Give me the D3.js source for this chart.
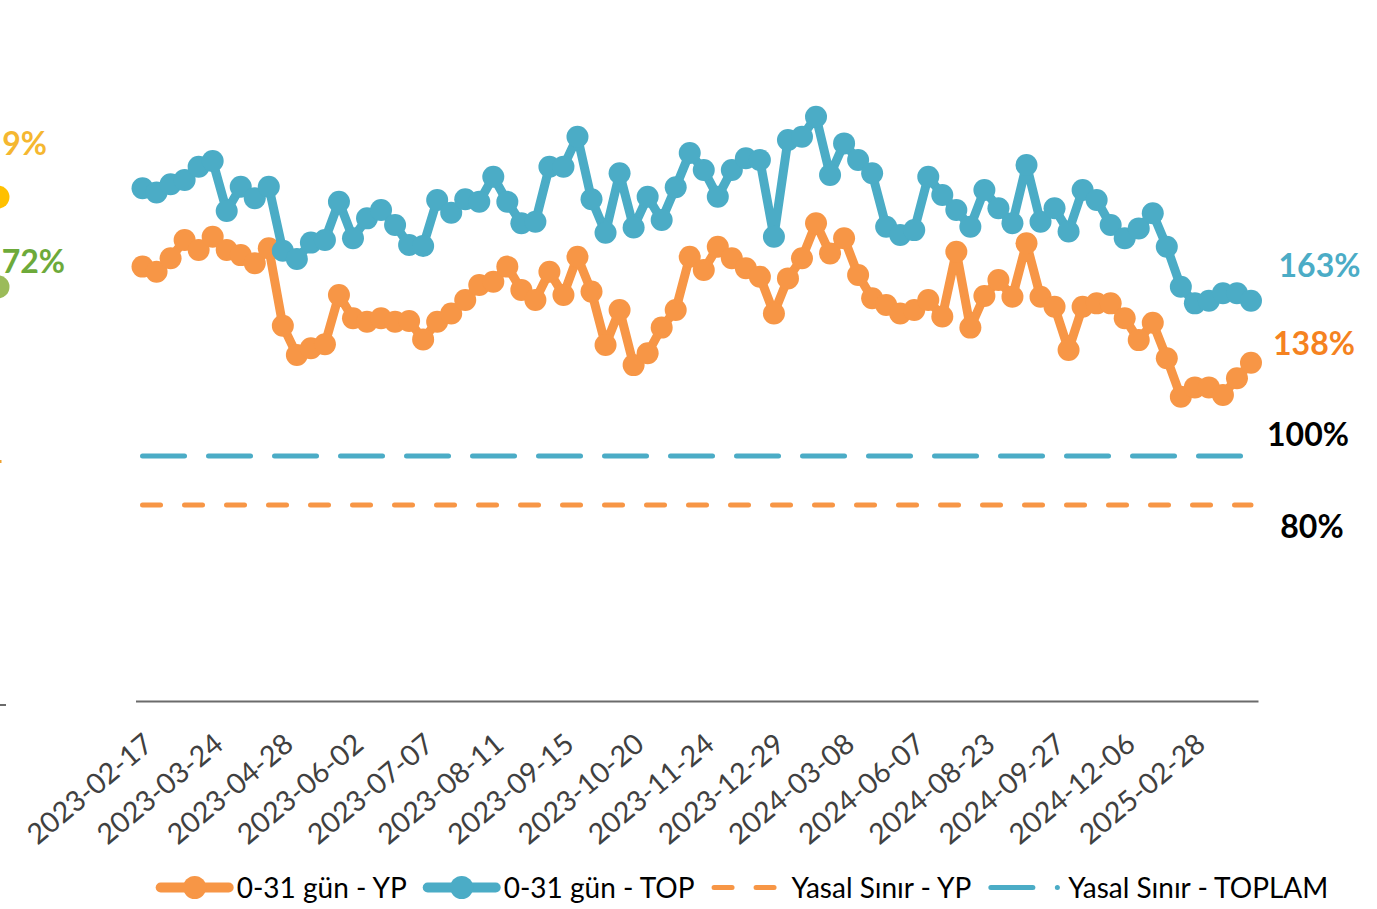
<!DOCTYPE html>
<html>
<head>
<meta charset="utf-8">
<script src="https://cdn.jsdelivr.net/npm/d3@7"></script>
<style>
html,body{margin:0;padding:0;background:#fff;overflow:hidden}
svg{display:block;font-family:Lato,"Open Sans",sans-serif}
</style>
</head>
<body>
<svg id="chart" width="1377" height="909"></svg>
<script>
// ---------------- data ----------------
const dates = [
"2023-02-17","2023-02-24","2023-03-03","2023-03-10","2023-03-17",
"2023-03-24","2023-03-31","2023-04-07","2023-04-14","2023-04-21",
"2023-04-28","2023-05-05","2023-05-12","2023-05-19","2023-05-26",
"2023-06-02","2023-06-09","2023-06-16","2023-06-23","2023-06-30",
"2023-07-07","2023-07-14","2023-07-21","2023-07-28","2023-08-04",
"2023-08-11","2023-08-18","2023-08-25","2023-09-01","2023-09-08",
"2023-09-15","2023-09-22","2023-09-29","2023-10-06","2023-10-13",
"2023-10-20","2023-10-27","2023-11-03","2023-11-10","2023-11-17",
"2023-11-24","2023-12-01","2023-12-08","2023-12-15","2023-12-22",
"2023-12-29","2024-01-12","2024-01-26","2024-02-09","2024-02-23",
"2024-03-08","2024-03-22","2024-04-05","2024-04-26","2024-05-17",
"2024-06-07","2024-06-21","2024-07-05","2024-07-26","2024-08-09",
"2024-08-23","2024-08-30","2024-09-06","2024-09-13","2024-09-20",
"2024-09-27","2024-10-11","2024-10-25","2024-11-08","2024-11-22",
"2024-12-06","2024-12-20","2025-01-03","2025-01-24","2025-02-14",
"2025-02-28","2025-03-14","2025-03-28","2025-04-11","2025-04-25"
];

// 0-31 gün - YP (%)
const seriesYP = [
177.3,175.2,180.7,188.2,184.1,189.5,184.1,182.0,178.7,184.8,
153.2,141.2,144.0,145.6,165.7,156.2,154.8,156.2,154.8,155.1,
147.6,154.8,158.2,163.7,169.8,171.1,177.3,167.8,163.7,175.2,
165.7,181.3,167.1,145.3,159.6,137.1,141.9,152.4,159.6,181.3,
175.9,185.4,180.7,176.6,173.2,158.2,172.5,180.7,195.0,182.7,
188.9,173.9,164.4,161.6,158.2,159.6,163.7,156.9,183.4,152.4,
165.3,171.8,165.0,186.8,165.0,160.9,143.3,160.9,162.3,162.3,
156.2,147.3,154.4,139.9,124.2,128.0,128.0,124.9,131.7,138.1
];

// 0-31 gün - TOP (%)
const seriesTOP = [
209.3,207.6,210.9,212.7,218.1,220.4,200.0,209.9,205.2,209.9,
183.8,180.4,187.1,188.2,203.8,188.9,197.0,200.4,194.3,186.1,
185.7,204.5,199.3,204.8,203.8,214.0,203.8,195.0,195.6,218.1,
218.1,230.3,204.8,191.1,215.4,193.3,205.8,196.3,209.7,223.7,
216.7,205.8,216.7,221.5,220.8,189.5,229.0,230.3,238.5,214.7,
227.6,220.8,215.4,193.6,190.2,192.2,214.0,206.5,200.4,193.6,
208.6,201.1,195.0,218.8,195.6,201.1,191.6,208.6,204.5,194.3,
188.9,192.9,199.1,185.4,169.1,162.3,163.4,166.4,166.4,163.4
];

const limitYP = 80;     // Yasal Sınır - YP
const limitTOP = 100;   // Yasal Sınır - TOPLAM
const tickEvery = 5;

const legendLabels = ["0-31 gün - YP", "0-31 gün - TOP", "Yasal Sınır - YP", "Yasal Sınır - TOPLAM"];

// visible parts of a neighbouring chart cut off at the left edge
const leftFragLabels = ["9%", "72%"];
const leftFragValues = [205.7, 169.0];

// ---------------- styles ----------------
const C_ORANGE = "#F79646", C_BLUE = "#4BACC6";
const C_ORANGE_LBL = "#F58220", C_BLUE_LBL = "#4BACC6";

const svg = d3.select("#chart");

const x = d3.scalePoint().domain(dates).range([135.5, 1258]).padding(0.5);
const y = d3.scaleLinear().domain([0, 250]).range([701, 88.5]);

// ---------- left cut-off fragments ----------
const frag = svg.append("g");
frag.append("line").attr("x1", -2).attr("y1", y(leftFragValues[1])).attr("x2", -9).attr("y2", y(leftFragValues[1]) + 34)
  .attr("stroke", "#9BBB59").attr("stroke-width", 8);
frag.append("circle").attr("cx", -2).attr("cy", y(leftFragValues[0])).attr("r", 11.5).attr("fill", "#FFC000");
frag.append("circle").attr("cx", -2).attr("cy", y(leftFragValues[1])).attr("r", 11.5).attr("fill", "#9BBB59");
frag.append("text").attr("x", 47).attr("y", 155).attr("text-anchor", "end")
  .attr("font-size", 32).attr("font-weight", 700).attr("fill", "#F5B730").text(leftFragLabels[0]);
frag.append("text").attr("x", 65).attr("y", 273).attr("text-anchor", "end")
  .attr("font-size", 32).attr("font-weight", 700).attr("fill", "#6DAA3A").text(leftFragLabels[1]);
frag.append("line").attr("x1", -6).attr("x2", 1.5).attr("y1", 461.5).attr("y2", 461.5)
  .attr("stroke", "#EFA230").attr("stroke-width", 3);
frag.append("line").attr("x1", 0).attr("x2", 6).attr("y1", 705).attr("y2", 705)
  .attr("stroke", "#6b6b6b").attr("stroke-width", 2);

// ---------- axis ----------
const axis = d3.axisBottom(x)
  .tickValues(dates.filter((d, i) => i % tickEvery === 0))
  .tickSize(0).tickSizeOuter(0);
const gx = svg.append("g").attr("transform", "translate(0,701)").call(axis);
gx.select(".domain").attr("stroke", "#6b6b6b").attr("stroke-width", 2);
gx.selectAll(".tick text")
  .attr("x", 0).attr("y", 0).attr("dy", "0.35em")
  .attr("text-anchor", "end")
  .attr("transform", "translate(5.5,38.5) rotate(-40)")
  .attr("font-size", 28.5).attr("font-family", "Lato, sans-serif").attr("fill", "#404040");

// ---------- limit lines ----------
const line = d3.line().x(d => d[0]).y(d => d[1]);
svg.append("path")
  .attr("d", line(dates.map(d => [x(d), y(limitTOP)])))
  .attr("fill", "none").attr("stroke", C_BLUE).attr("stroke-width", 5)
  .attr("stroke-linecap", "round").attr("stroke-dasharray", "42,24");
svg.append("path")
  .attr("d", line(dates.map(d => [x(d), y(limitYP)])))
  .attr("fill", "none").attr("stroke", C_ORANGE).attr("stroke-width", 5)
  .attr("stroke-linecap", "round").attr("stroke-dasharray", "18,24");

// ---------- series ----------
function drawSeries(values, color) {
  const pts = dates.map((d, i) => [x(d), y(values[i])]);
  const g = svg.append("g");
  g.append("path").attr("d", line(pts)).attr("fill", "none")
    .attr("stroke", color).attr("stroke-width", 9).attr("stroke-linejoin", "round");
  g.selectAll("circle").data(pts).join("circle")
    .attr("cx", d => d[0]).attr("cy", d => d[1]).attr("r", 11).attr("fill", color);
}
drawSeries(seriesYP, C_ORANGE);
drawSeries(seriesTOP, C_BLUE);

// ---------- end labels ----------
const last = dates[dates.length - 1];
const xl = x(last);
const fmt = v => Math.round(v) + "%";
const endLabels = [
  {v: seriesTOP[seriesTOP.length - 1], dx: 68.5, dy: -24, c: C_BLUE_LBL},
  {v: seriesYP[seriesYP.length - 1], dx: 63, dy: -7.5, c: C_ORANGE_LBL},
  {v: limitTOP, dx: 57, dy: -10.5, c: "#000"},
  {v: limitYP, dx: 61, dy: 32.5, c: "#000"}
];
svg.selectAll("text.endlbl").data(endLabels).join("text")
  .attr("class", "endlbl")
  .attr("x", d => xl + d.dx).attr("y", d => y(d.v) + d.dy)
  .attr("text-anchor", "middle").attr("font-size", 32).attr("font-weight", 700)
  .attr("fill", d => d.c).text(d => fmt(d.v));

// ---------- legend ----------
const legY = 887.5, legBase = 897.5;
const leg = svg.append("g").attr("font-size", 28).attr("fill", "#000");
const itemTypes = [
  {color: C_ORANGE, kind: "marker"},
  {color: C_BLUE, kind: "marker"},
  {color: C_ORANGE, kind: "dashS"},
  {color: C_BLUE, kind: "dashL"}
];
const sampleW = 80, afterText = 17;
const widths = legendLabels.map(t => {
  const tt = leg.append("text").text(t);
  const w = tt.node().getComputedTextLength();
  tt.remove();
  return w;
});
const total = d3.sum(widths) + sampleW * 4 + afterText * 3;
let cx = 742.5 - total / 2;
legendLabels.forEach((t, i) => {
  const it = itemTypes[i];
  const g = leg.append("g");
  if (it.kind === "marker") {
    g.append("line").attr("x1", cx + 4).attr("x2", cx + 72).attr("y1", legY).attr("y2", legY)
      .attr("stroke", it.color).attr("stroke-width", 10).attr("stroke-linecap", "round");
    g.append("circle").attr("cx", cx + 38).attr("cy", legY).attr("r", 11.5).attr("fill", it.color);
  } else if (it.kind === "dashS") {
    g.append("line").attr("x1", cx + 2.5).attr("x2", cx + 62.5).attr("y1", legY).attr("y2", legY)
      .attr("stroke", it.color).attr("stroke-width", 5).attr("stroke-linecap", "round")
      .attr("stroke-dasharray", "18,24");
  } else {
    g.append("line").attr("x1", cx + 2.5).attr("x2", cx + 44.5).attr("y1", legY).attr("y2", legY)
      .attr("stroke", it.color).attr("stroke-width", 5).attr("stroke-linecap", "round");
    g.append("circle").attr("cx", cx + 69).attr("cy", legY).attr("r", 2.5).attr("fill", it.color);
  }
  g.append("text").attr("x", cx + sampleW).attr("y", legBase).text(t);
  cx += sampleW + widths[i] + afterText;
});
</script>
</body>
</html>
